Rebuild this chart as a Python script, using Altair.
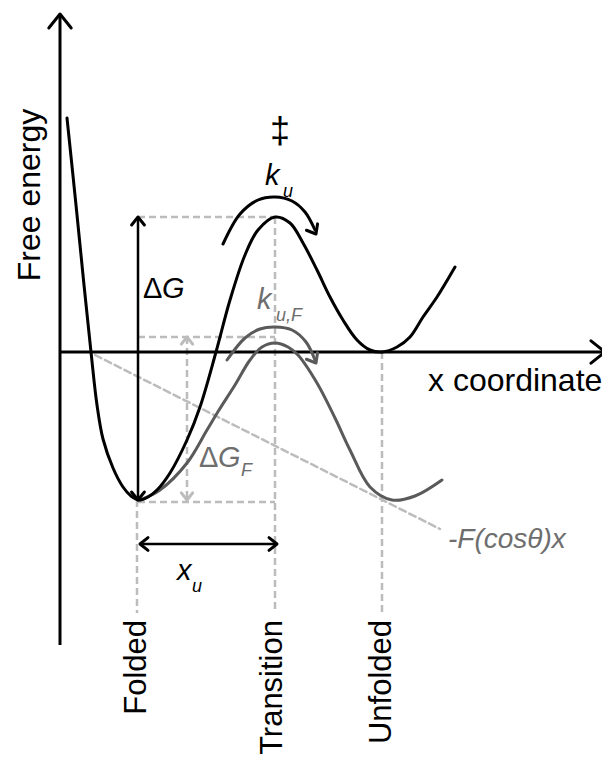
import altair as alt
import pandas as pd

# ---------------- data (arbitrary units: reaction coordinate, free energy) ----------------
landscape_x = [0.7, 1.6, 2.4, 3.1, 3.7, 4.3, 5.3, 6.3, 7.1, 7.9, 8.8, 9.7, 11.0, 12.7, 14.0, 15.6,
               17.0, 18.5, 19.8, 21.5, 23.0, 24.3, 25.7, 27.0, 28.3, 29.7, 31.0, 32.2,
               33.7, 35.0, 36.3, 37.7, 39.5]
landscape_g = [23.4, 14.7, 6.7, 0.0, -5.3, -8.7, -11.6, -13.5, -14.4, -14.8, -14.5, -13.8, -12.1, -8.8, -5.5, 0.0,
               5.2, 9.7, 12.2, 13.5, 12.9, 10.9, 8.2, 5.5, 3.2, 1.2, 0.2, 0.0,
               0.5, 1.5, 3.5, 5.5, 8.5]

tilted_x = [8.0, 10.0, 12.7, 14.7, 15.9, 17.5, 19.0, 20.2, 21.5, 22.8, 23.8, 25.7, 27.5, 29.0,
            31.0, 33.2, 35.5, 38.2]
tilted_g = [-14.8, -13.8, -11.1, -7.8, -5.8, -3.3, -0.8, 0.5, 0.9, 0.5, -0.3, -3.1, -6.6, -9.8,
            -13.5, -14.8, -14.4, -12.8]

force_line_x = [3.5, 38.0]
force_line_g = [-0.3, -17.7]

ku_arc_x = [16.3, 18.0, 19.8, 21.5, 23.2, 24.5, 25.5]
ku_arc_g = [10.8, 13.8, 15.2, 15.5, 15.1, 14.0, 12.2]
kuF_arc_x = [16.7, 18.5, 20.0, 21.5, 23.2, 24.6, 25.5]
kuF_arc_g = [-0.8, 1.4, 2.3, 2.5, 2.2, 1.0, -0.8]

state_names = ["Folded", "Transition", "Unfolded"]
state_x = [7.7, 21.5, 32.2]
state_top = [-14.8, 13.5, 0.0]
guide_bottom = -26.1

barrier_g = 13.5
barrier_F_g = 1.5
well_g = -15.0
well_min_g = -14.8
dG_x = 7.8
dGF_x = 12.7
xu_g = -19.2
xu_x = [8.0, 21.7]

axis_y_range = [-29.3, 33.8]
axis_x_end = 54.5

# ---------------- scales ----------------
XS = alt.Scale(domain=[-5.2, 54.2], nice=False, zero=False)
YS = alt.Scale(domain=[-40.2, 34.4], nice=False, zero=False)
FONT = "Liberation Sans"
BLACK = "#000000"
DARK = "#5a5a5a"
TEXTGREY = "#6e6e6e"
LIGHT = "#bcbcbc"


def X(f="x"):
    return alt.X(f + ":Q", scale=XS, axis=None)


def Y(f="y"):
    return alt.Y(f + ":Q", scale=YS, axis=None)


def curve(xv, yv, color, width, interp="catmull-rom", dash=None):
    df = pd.DataFrame({"x": xv, "y": yv, "o": list(range(len(xv)))})
    kw = dict(color=color, strokeWidth=width, interpolate=interp, clip=False, strokeCap="round")
    if dash:
        kw["strokeDash"] = dash
    return alt.Chart(df).mark_line(**kw).encode(x=X(), y=Y(), order="o:Q")


def segments(rows, color, width, dash=None):
    df = pd.DataFrame(rows, columns=["x", "y", "x2", "y2"])
    kw = dict(color=color, strokeWidth=width)
    if dash:
        kw["strokeDash"] = dash
    return alt.Chart(df).mark_rule(**kw).encode(
        x=X(), y=Y(), x2="x2:Q", y2="y2:Q")


def texts(rows, **kw):
    df = pd.DataFrame(rows, columns=["x", "y", "t"])
    base = dict(font=FONT, clip=False)
    base.update(kw)
    return alt.Chart(df).mark_text(**base).encode(x=X(), y=Y(), text="t:N")


# ---------------- layers ----------------
guides_v = segments([[sx, st, sx, guide_bottom] for sx, st in zip(state_x, state_top)], LIGHT, 2.5, [7, 4])
guides_h = segments([
    [dG_x, barrier_g, state_x[1], barrier_g],
    [dG_x, barrier_F_g, state_x[1], barrier_F_g],
    [dG_x, well_g, state_x[1], well_g],
], LIGHT, 2.5, [7, 4])
dgf_shaft = segments([[dGF_x, barrier_F_g, dGF_x, well_min_g]], LIGHT, 2.5, [7, 4])
force_line = curve(force_line_x, force_line_g, LIGHT, 2.5, "linear", [7, 4])

axes = segments([
    [0, axis_y_range[0], 0, axis_y_range[1]],
    [0, 0, axis_x_end, 0],
], BLACK, 3)

shafts = segments([
    [dG_x, barrier_g, dG_x, well_min_g],
    [xu_x[0], xu_g, xu_x[1], xu_g],
], BLACK, 2.5)

tilted = curve(tilted_x, tilted_g, DARK, 3)
landscape = curve(landscape_x, landscape_g, BLACK, 3)
ku_arc = curve(ku_arc_x, ku_arc_g, BLACK, 3)
kuF_arc = curve(kuF_arc_x, kuF_arc_g, DARK, 3)

heads = pd.DataFrame([
    [0, axis_y_range[1], 0, 784, BLACK],
    [axis_x_end, 0, 90, 784, BLACK],
    [dG_x, barrier_g, 0, 256, BLACK],
    [dG_x, well_min_g, 180, 256, BLACK],
    [dGF_x, barrier_F_g, 0, 200, LIGHT],
    [dGF_x, well_min_g, 180, 200, LIGHT],
    [xu_x[0], xu_g, 270, 256, BLACK],
    [xu_x[1], xu_g, 90, 256, BLACK],
    [25.6, 11.8, 150, 256, BLACK],
    [25.6, -1.1, 150, 256, DARK],
], columns=["x", "y", "a", "s", "c"])
head_layer = alt.Chart(heads).mark_point(
    shape="M -0.8 1 L 0 0 L 0.8 1", filled=False, strokeWidth=3, opacity=1, clip=False,
    strokeCap="round", strokeJoin="round"
).encode(
    x=X(), y=Y(),
    angle=alt.Angle("a:Q", scale=None),
    size=alt.Size("s:Q", scale=None),
    color=alt.Color("c:N", scale=None),
)

t_axes_y = texts([[-2.0, 15.7, "Free energy"]], fontSize=32, angle=270, align="center",
                 baseline="alphabetic", color=BLACK)
t_axes_x = texts([[36.8, -3.9, "x coordinate"]], fontSize=32, align="left",
                 baseline="alphabetic", color=BLACK)
t_states = texts([[sx + 0.85 if i != 1 else sx + 0.7, -26.8, n]
                  for i, (sx, n) in enumerate(zip(state_x, state_names))],
                 fontSize=31, angle=270, align="right", baseline="alphabetic", color=BLACK)
t_delta_black = texts([[8.3, 5.4, "Δ"]], fontSize=29, align="left", baseline="alphabetic", color=BLACK)
t_g_black = texts([[10.2, 5.4, "G"]], fontSize=29, fontStyle="italic", align="left",
                  baseline="alphabetic", color=BLACK)
t_delta_grey = texts([[13.9, -11.5, "Δ"]], fontSize=29, align="left", baseline="alphabetic", color=TEXTGREY)
t_g_grey = texts([[15.8, -11.5, "G"]], fontSize=29, fontStyle="italic", align="left",
                 baseline="alphabetic", color=TEXTGREY)
t_sub_grey = texts([[18.1, -12.4, "F"], [21.6, 3.1, "u,F"]], fontSize=18, fontStyle="italic",
                   align="left", baseline="alphabetic", color=TEXTGREY)
t_k_grey = texts([[19.7, 4.3, "k"]], fontSize=29, fontStyle="italic", align="left",
                 baseline="alphabetic", color=TEXTGREY)
t_force = texts([[38.8, -19.6, "-F(cosθ)x"]], fontSize=28, fontStyle="italic", align="left",
                baseline="alphabetic", color=TEXTGREY)
t_main = texts([[20.5, 16.7, "k"], [11.7, -22.8, "x"]], fontSize=29, fontStyle="italic",
               align="left", baseline="alphabetic", color=BLACK)
t_sub = texts([[22.3, 15.5, "u"], [13.2, -24.0, "u"]], fontSize=18, fontStyle="italic",
              align="left", baseline="alphabetic", color=BLACK)
t_dagger = texts([[22.0, 22.0, "‡"]], fontSize=36, align="center", baseline="middle", color=BLACK)

chart = alt.layer(
    guides_v, guides_h, dgf_shaft, force_line,
    axes, shafts,
    tilted, kuF_arc, landscape, ku_arc,
    head_layer,
    t_axes_y, t_axes_x, t_states,
    t_delta_black, t_g_black, t_delta_grey, t_g_grey, t_sub_grey, t_k_grey, t_force,
    t_main, t_sub, t_dagger,
).properties(
    width=594, height=746, autosize=alt.AutoSizeParams(type="none"), padding=0,
    background="white",
).configure_view(stroke=None)

chart.save("out.html", embed_options={"renderer": "svg", "actions": False})
